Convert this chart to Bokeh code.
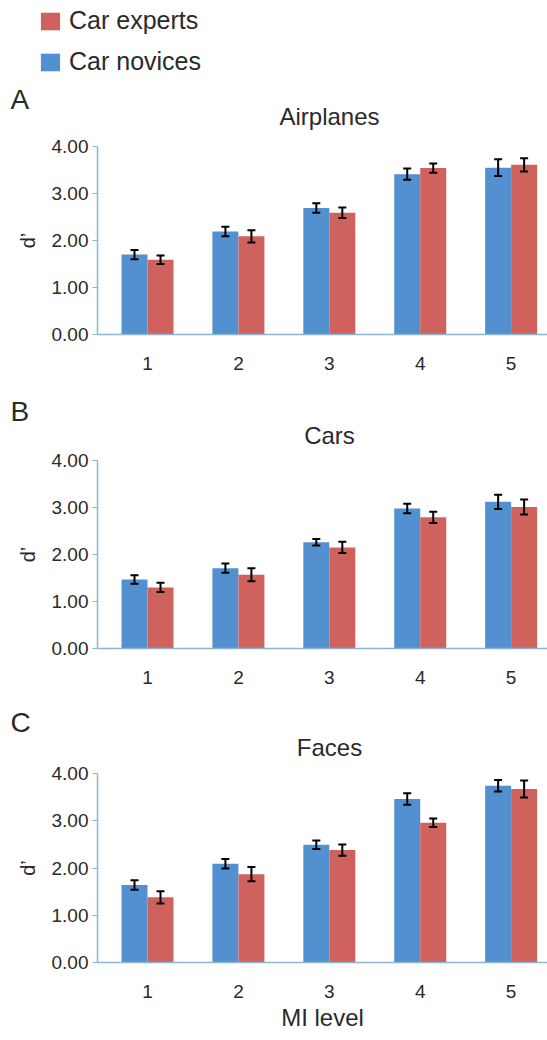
from bokeh.plotting import figure
from bokeh.models import (ColumnDataSource, Whisker, TeeHead, FixedTicker, Legend,
                          LegendItem, Label, Range1d)
from bokeh.layouts import column
from bokeh.transform import dodge
from bokeh.embed import file_html
from bokeh.resources import INLINE

# ---------------- data ----------------
levels = [1, 2, 3, 4, 5]
x_tick_labels = ["1", "2", "3", "4", "5"]
y_ticks = [0, 1, 2, 3, 4]
y_tick_labels = ["0.00", "1.00", "2.00", "3.00", "4.00"]
legend_labels = ["Car experts", "Car novices"]
panel_titles = ["Airplanes", "Cars", "Faces"]
panel_letters = ["A", "B", "C"]

airplanes_novices = [1.70, 2.19, 2.69, 3.41, 3.55]
airplanes_novices_err = [0.10, 0.10, 0.10, 0.12, 0.18]
airplanes_experts = [1.59, 2.09, 2.59, 3.54, 3.61]
airplanes_experts_err = [0.09, 0.13, 0.11, 0.10, 0.14]

cars_novices = [1.47, 1.71, 2.26, 2.98, 3.12]
cars_novices_err = [0.09, 0.10, 0.07, 0.10, 0.15]
cars_experts = [1.30, 1.57, 2.15, 2.79, 3.01]
cars_experts_err = [0.10, 0.14, 0.12, 0.12, 0.16]

faces_novices = [1.64, 2.09, 2.49, 3.46, 3.74]
faces_novices_err = [0.10, 0.10, 0.09, 0.12, 0.12]
faces_experts = [1.38, 1.87, 2.38, 2.96, 3.67]
faces_experts_err = [0.13, 0.15, 0.12, 0.09, 0.18]

# ---------------- style ----------------
FONT = "Liberation Sans"
BLUE = "#5290cf"
RED = "#cf625d"
AXIS = "#8cb6d0"
TEXT = "#2a2a2a"
W = 547
OFF = 0.143
BW = 0.286


def strip(height, letter, letter_y, title, title_y, legend_src=None):
    """Header strip holding the panel letter and the panel title (and legend)."""
    s = figure(width=W, height=height, x_range=Range1d(100, 101), y_range=Range1d(100, 101),
               output_backend="svg", toolbar_location=None,
               x_axis_location=None, y_axis_location=None,
               min_border_left=0, min_border_right=0, min_border_top=0, min_border_bottom=0,
               frame_align=False)
    s.outline_line_color = None
    s.xgrid.visible = False
    s.ygrid.visible = False
    s.add_layout(Label(x=10, y=letter_y, x_units="screen", y_units="screen", text=letter,
                       text_font=FONT, text_font_size="28px", text_baseline="alphabetic",
                       text_color=TEXT))
    s.add_layout(Label(x=329, y=title_y, x_units="screen", y_units="screen", text=title,
                       text_font=FONT, text_font_size="24px", text_baseline="alphabetic",
                       text_align="center", text_color=TEXT))
    if legend_src is not None:
        r_exp = s.vbar(x="level", top="exp", width=BW, source=legend_src,
                       fill_color=RED, line_color=None)
        r_nov = s.vbar(x="level", top="nov", width=BW, source=legend_src,
                       fill_color=BLUE, line_color=None)
        legend = Legend(items=[LegendItem(label=legend_labels[0], renderers=[r_exp]),
                               LegendItem(label=legend_labels[1], renderers=[r_nov])],
                        location=(38, 59), glyph_width=24, glyph_height=22,
                        label_text_font=FONT, label_text_font_size="25px",
                        label_text_color=TEXT, label_standoff=7, spacing=12,
                        padding=0, margin=0, border_line_color=None,
                        background_fill_alpha=0)
        s.add_layout(legend)
    return s


def make_panel(nov, nov_err, exp, exp_err, frame_h, border_bottom, xlabel=None):
    src = ColumnDataSource(dict(
        level=levels, nov=nov, exp=exp,
        nov_lo=[v - e for v, e in zip(nov, nov_err)],
        nov_hi=[v + e for v, e in zip(nov, nov_err)],
        exp_lo=[v - e for v, e in zip(exp, exp_err)],
        exp_hi=[v + e for v, e in zip(exp, exp_err)],
    ))
    top_b = 11
    p = figure(width=W, height=top_b + frame_h + border_bottom,
               x_range=Range1d(0.45, 5.40), y_range=Range1d(0, 4),
               output_backend="svg", toolbar_location=None,
               min_border_left=97, min_border_right=0, min_border_top=top_b,
               min_border_bottom=border_bottom, frame_align=False)
    p.outline_line_color = None
    p.xgrid.visible = False
    p.ygrid.visible = False

    p.vbar(x=dodge("level", -OFF), top="nov", width=BW, bottom=0, source=src,
           fill_color=BLUE, line_color=None)
    p.vbar(x=dodge("level", OFF), top="exp", width=BW, bottom=0, source=src,
           fill_color=RED, line_color=None)

    for base, lo, hi in [(dodge("level", -OFF), "nov_lo", "nov_hi"),
                         (dodge("level", OFF), "exp_lo", "exp_hi")]:
        w = Whisker(source=src, base=base, lower=lo, upper=hi, dimension="height",
                    line_color="black", line_width=2, level="overlay",
                    upper_head=TeeHead(size=8, line_color="black", line_width=2),
                    lower_head=TeeHead(size=8, line_color="black", line_width=2))
        p.add_layout(w)

    xa = p.xaxis[0]
    xa.ticker = FixedTicker(ticks=levels)
    xa.major_label_overrides = {lv: lab for lv, lab in zip(levels, x_tick_labels)}
    xa.axis_line_color = AXIS
    xa.axis_line_width = 1.5
    xa.major_tick_line_color = None
    xa.minor_tick_line_color = None
    xa.major_label_standoff = 16
    xa.major_label_text_font = FONT
    xa.major_label_text_font_size = "19px"
    xa.major_label_text_color = TEXT
    if xlabel:
        xa.axis_label = xlabel
        xa.axis_label_text_font = FONT
        xa.axis_label_text_font_size = "24px"
        xa.axis_label_text_font_style = "normal"
        xa.axis_label_text_color = TEXT
        xa.axis_label_standoff = 3

    ya = p.yaxis[0]
    ya.ticker = FixedTicker(ticks=y_ticks)
    ya.major_label_overrides = {t: lab for t, lab in zip(y_ticks, y_tick_labels)}
    ya.axis_line_color = AXIS
    ya.axis_line_width = 1.5
    ya.major_tick_line_color = AXIS
    ya.major_tick_out = 5
    ya.major_tick_in = 0
    ya.minor_tick_line_color = None
    ya.major_label_standoff = 4
    ya.major_label_text_font = FONT
    ya.major_label_text_font_size = "19px"
    ya.major_label_text_color = TEXT
    ya.axis_label = "d\u2019"
    ya.axis_label_text_font = FONT
    ya.axis_label_text_font_size = "20px"
    ya.axis_label_text_font_style = "normal"
    ya.axis_label_text_color = TEXT
    ya.axis_label_standoff = 10
    return p


legend_src = ColumnDataSource(dict(level=levels, nov=airplanes_novices, exp=airplanes_experts))

sA = strip(135, panel_letters[0], 36, panel_titles[0], 19, legend_src=legend_src)
pA = make_panel(airplanes_novices, airplanes_novices_err,
                airplanes_experts, airplanes_experts_err, 188, 52)
sB = strip(63, panel_letters[1], 38, panel_titles[1], 14)
pB = make_panel(cars_novices, cars_novices_err, cars_experts, cars_experts_err, 188, 52)
sC = strip(62, panel_letters[2], 40, panel_titles[2], 15)
pC = make_panel(faces_novices, faces_novices_err, faces_experts, faces_experts_err,
                189, 76, xlabel="MI level")

layout = column(sA, pA, sB, pB, sC, pC, spacing=0)
open("out.html", "w").write(file_html(layout, INLINE))
